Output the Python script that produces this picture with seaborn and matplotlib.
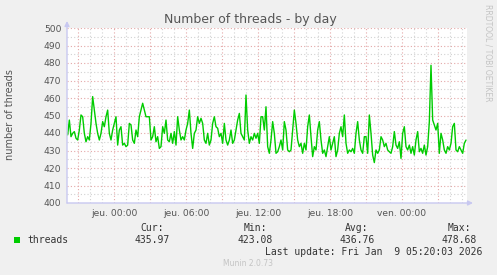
import matplotlib
matplotlib.use("Agg")
import matplotlib.pyplot as plt
import matplotlib.dates as mdates
import seaborn as sns
import pandas as pd
import numpy as np

# ---- data: one sample every 500 s from Wed 2026-01-07 20:00 ----
start_time = "2026-01-07 20:00:00"
sample_step = "500s"
threads = [
    440.8, 438.9, 447.4, 437.9, 439.8, 440.8, 437.0, 436.0, 441.7, 450.3,
    449.3, 439.8, 435.0, 437.9, 436.0, 445.5, 460.8, 453.1, 445.5, 439.8,
    436.0, 439.8, 446.5, 443.6, 449.3, 453.1, 439.8, 436.0, 441.7, 445.5,
    449.3, 433.1, 441.7, 443.6, 433.1, 434.1, 432.2, 433.1, 445.5, 444.6,
    436.0, 434.1, 441.7, 437.9, 449.3, 453.1, 457.0, 453.1, 449.3, 449.3,
    449.3, 436.0, 437.9, 443.6, 435.0, 437.9, 431.2, 432.2, 443.6, 439.8,
    447.4, 436.0, 435.0, 439.8, 434.1, 440.8, 433.1, 449.3, 441.7, 436.0,
    437.9, 436.0, 441.7, 445.5, 453.1, 439.8, 431.2, 439.8, 441.7, 449.3,
    445.5, 448.4, 445.5, 436.0, 434.1, 439.8, 433.1, 436.0, 445.5, 449.3,
    443.6, 442.7, 437.9, 439.8, 434.1, 445.5, 436.0, 433.1, 436.0, 441.7,
    434.1, 436.0, 441.7, 447.4, 451.2, 439.8, 437.9, 436.0, 461.7, 441.7,
    434.1, 437.9, 436.0, 439.8, 437.0, 439.8, 434.1, 449.3, 449.3, 441.7,
    455.0,
    432.2, 428.4, 436.0, 446.5, 439.8, 428.4, 429.3, 432.2, 436.0, 430.3,
    446.5, 441.7, 430.3, 429.3, 430.3, 441.7, 453.1, 445.5, 436.0, 432.2,
    434.1, 428.4, 434.1, 430.3, 443.6, 450.3, 437.9, 426.5, 432.2, 430.3,
    441.7, 446.5, 436.0, 428.4, 430.3, 426.5, 432.2, 437.9, 430.3, 434.1,
    437.9, 426.5, 430.3, 439.8, 443.6, 437.9, 450.3, 434.1, 428.4, 430.3,
    429.3, 431.2, 428.4, 439.8, 446.5, 436.0, 430.3, 428.4, 437.9,
    437.9, 428.4, 450.3, 439.8, 427.4, 423.1, 430.3, 428.4, 430.3, 437.9,
    436.0, 432.2, 434.1, 430.3, 429.3, 428.4, 432.2, 440.8, 433.1, 431.2,
    435.0, 425.5, 439.8, 443.6, 432.2, 430.3, 433.1, 428.4, 432.2, 427.4,
    436.0, 440.8, 429.3, 431.2, 428.4, 433.1, 427.4, 432.2, 446.5, 478.68,
    447.4, 444.6, 441.7, 445.5, 428.4, 439.8, 436.0, 430.3, 428.4, 432.2,
    430.3, 434.1, 443.6, 445.5, 430.3, 429.3, 432.2, 430.3, 428.4, 434.1,
    435.97]
view_start = "2026-01-07 20:05:00"
view_end = "2026-01-09 05:25:00"
tick_times = ["2026-01-08 00:00", "2026-01-08 06:00", "2026-01-08 12:00",
              "2026-01-08 18:00", "2026-01-09 00:00"]
tick_labels = ["jeu. 00:00", "jeu. 06:00", "jeu. 12:00", "jeu. 18:00", "ven. 00:00"]
yticks = [400, 410, 420, 430, 440, 450, 460, 470, 480, 490, 500]
series_name = "threads"
stats_names = ["Cur:", "Min:", "Avg:", "Max:"]
stats_values = ["435.97", "423.08", "436.76", "478.68"]
title = "Number of threads - by day"
ylabel = "number of threads"
last_update = "Last update: Fri Jan  9 05:20:03 2026"
footer = "Munin 2.0.73"
watermark = "RRDTOOL / TOBI OETIKER"

times = pd.date_range(start_time, periods=len(threads), freq=sample_step)
df = pd.DataFrame({"time": times, "threads": threads})

sns.set_theme(style="white")
plt.rcParams["font.family"] = ["DejaVu Sans"]

W, H = 497, 275
fig = plt.figure(figsize=(W / 100, H / 100), dpi=100, facecolor="#F0F0F0")
ax = fig.add_axes([67 / W, 1 - 203 / H, 400 / W, 175 / H])
ax.set_facecolor("white")

x0 = mdates.date2num(pd.Timestamp(view_start))
x1 = mdates.date2num(pd.Timestamp(view_end))
ax.set_xlim(x0, x1)
ax.set_ylim(400, 500)

major_c = "#E4A8A8"
minor_c = "#D2D2D2"
dots = (0, (1, 2))
hour_marks = pd.date_range("2026-01-07 21:00", "2026-01-09 05:00", freq="1h")
for t in hour_marks:
    if t.hour % 3 != 0:
        ax.axvline(mdates.date2num(t), color=minor_c, lw=0.8, ls=dots, zorder=0)
for v in range(405, 500, 10):
    ax.axhline(v, color=minor_c, lw=0.8, ls=dots, zorder=0)
for t in hour_marks:
    if t.hour % 3 == 0:
        ax.axvline(mdates.date2num(t), color=major_c, lw=0.8, ls=dots, zorder=0.5)
for v in range(410, 501, 10):
    ax.axhline(v, color=major_c, lw=0.8, ls=dots, zorder=0.5)

sns.lineplot(data=df, x="time", y="threads", ax=ax, color="#00CC00", lw=1.0, zorder=3)

ax.set_xticks([mdates.date2num(pd.Timestamp(t)) for t in tick_times])
ax.set_xticklabels(tick_labels)
ax.set_xticks([mdates.date2num(t) for t in hour_marks if t.hour % 3 == 0], minor=True)
ax.set_yticks(yticks)
ax.set_yticklabels([str(v) for v in yticks])
ax.tick_params(axis="both", which="major", labelsize=6.6, labelcolor="#555555",
               length=2, color=major_c, pad=2)
ax.tick_params(axis="x", which="minor", length=2, color=major_c)
ax.set_xlabel("")
ax.set_ylabel("")
for s in ["top", "right", "left", "bottom"]:
    ax.spines[s].set_visible(False)

axis_c = "#C8C8F0"
ax.annotate("", xy=(0, 1.04), xytext=(0, 0), xycoords="axes fraction",
            arrowprops=dict(arrowstyle="-|>", color=axis_c, lw=1, mutation_scale=7,
                            shrinkA=0, shrinkB=0), annotation_clip=False)
ax.annotate("", xy=(1.015, 0), xytext=(0, 0), xycoords="axes fraction",
            arrowprops=dict(arrowstyle="-|>", color=axis_c, lw=1, mutation_scale=7,
                            shrinkA=0, shrinkB=0), annotation_clip=False)

def px(x, y):
    return x / W, 1 - y / H

fig.text(*px(250, 19), title, ha="center", va="center", fontsize=9, color="#555555")
fig.text(*px(10, 115), ylabel, ha="center", va="center", rotation=90, fontsize=7,
         color="#555555")
fig.text(*px(488, 53), watermark, ha="center", va="center", rotation=270,
         fontsize=5.5, color="#C4C4C4")

mono = "DejaVu Sans Mono"
fig.patches.append(plt.Rectangle(px(14, 243), 6 / W, 6 / H, transform=fig.transFigure,
                                 facecolor="#00CC00", edgecolor="none"))
fig.text(*px(27, 240), series_name, ha="left", va="center", fontsize=7,
         family=mono, color="#333333")
stat_x = [152, 255, 357, 459]
for xx, n, v in zip(stat_x, stats_names, stats_values):
    fig.text(*px(xx, 228), n, ha="center", va="center", fontsize=7, family=mono,
             color="#333333")
    fig.text(*px(xx, 240), v, ha="center", va="center", fontsize=7, family=mono,
             color="#333333")
fig.text(*px(482, 252), last_update, ha="right", va="center", fontsize=7,
         family=mono, color="#333333")
fig.text(*px(248, 264), footer, ha="center", va="center", fontsize=5.5,
         color="#C4C4C4")

fig.savefig("out.png", dpi=100, facecolor=fig.get_facecolor())
